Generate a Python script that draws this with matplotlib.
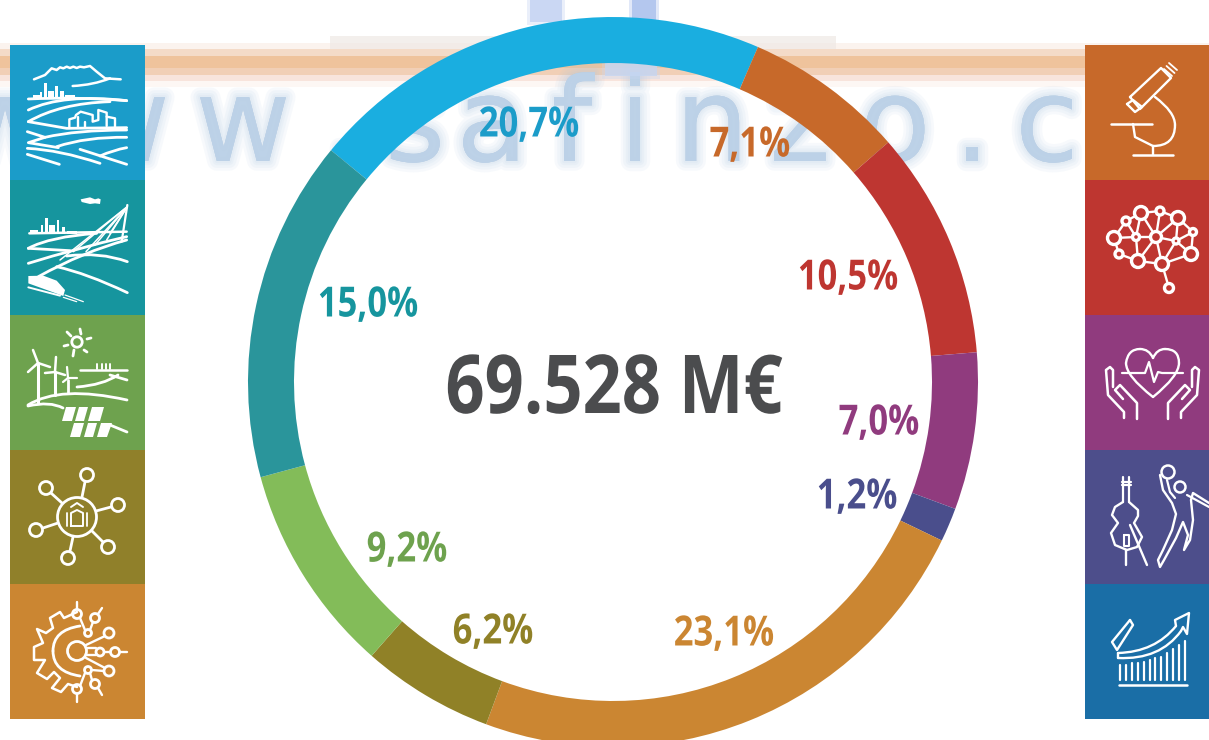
import matplotlib
matplotlib.use('Agg')
import matplotlib.pyplot as plt
import matplotlib.patheffects as pe
from matplotlib.patches import Rectangle, Circle, PathPatch, Polygon
from matplotlib.path import Path
from matplotlib.transforms import Affine2D

# data
shares = [20.7, 7.1, 10.5, 7.0, 1.2, 23.1, 6.2, 9.2, 15.0]
# the drawn arcs differ a little from the printed labels
arc_shares = [20.55, 7.1, 10.1, 6.95, 1.5, 23.5, 5.85, 9.3, 15.15]
ring_colors = ['#1AAEE0', '#C7692A', '#BE3631', '#903B7E', '#4A4E8C',
               '#CB8632', '#908127', '#83BC59', '#2A959B']
label_colors = ['#1B9CC9', '#C7692A', '#BE3631', '#903B7E', '#4A4E8C',
                '#CB8632', '#908127', '#6EA24E', '#16959E']
label_pos = [(529, 126), (750, 146), (848, 279), (879, 424), (857, 498),
             (724, 635), (493, 633), (407, 551), (368, 306)]
total_label = '69.528 M€'
left_tiles = ['#1B9CC9', '#16959E', '#6EA24E', '#90802A', '#CB8632']
right_tiles = ['#C7692A', '#BE3630', '#903B7E', '#4D4E8B', '#1A6EA6']
tile_edges = [45, 180, 315, 450, 584, 719]

W, H = 1209, 740

fig = plt.figure(figsize=(W / 100, H / 100), dpi=100)
ax = fig.add_axes([0, 0, 1, 1])


# no condensed bold installed, so narrow the real text when it is drawn
class Squeeze(pe.AbstractPathEffect):
    def __init__(self, sx):
        super().__init__()
        self.sx = sx

    def draw_path(self, renderer, gc, tpath, affine, rgbFace=None):
        box = tpath.get_extents(affine)
        xc = (box.x0 + box.x1) / 2
        squeezed = affine + Affine2D().translate(-xc, 0).scale(self.sx, 1).translate(xc, 0)
        renderer.draw_path(gc, tpath, squeezed, rgbFace)


def Y(y):
    return H - y


def P(pts):
    return [(x, Y(y)) for x, y in pts]


def line(pts, lw=2.0, z=6):
    xs, ys = zip(*P(pts))
    ax.plot(xs, ys, color='white', lw=lw, zorder=z, solid_capstyle='round', solid_joinstyle='round')


def curve(p0, c, p1, lw=2.0, z=6):
    path = Path(P([p0, c, p1]), [Path.MOVETO, Path.CURVE3, Path.CURVE3])
    ax.add_patch(PathPatch(path, fc='none', ec='white', lw=lw, zorder=z, capstyle='round'))


def circ(x, y, r, lw=2.0, fill='none'):
    ax.add_patch(Circle((x, Y(y)), r, fc=fill, ec='white', lw=lw, zorder=6))


def solid(pts):
    ax.add_patch(Polygon(P(pts), closed=True, fc='white', ec='none', zorder=6))


def bars(items, base):
    for x0, x1, top in items:
        ax.add_patch(Rectangle((x0, Y(base)), x1 - x0, base - top, fc='white', ec='none', zorder=6))


# zoomed icon coordinates to pixels
def i1(x, y):
    return (10 + x / 3, 50 + y / 3)


def i2(x, y):
    return (10 + x / 3, 180 + y / 3)


# blurred background (watermark)
band = [(43, 49, '#FBF3EE'), (49, 56, '#F4DBC8'), (56, 68, '#EFC39C'),
        (68, 75, '#F1CFB6'), (75, 81, '#F8E4DC'), (81, 87, '#FDF7F4')]
for y0, y1, c in band:
    ax.add_patch(Rectangle((0, Y(y1)), W, y1 - y0, fc=c, ec='none', zorder=1))
ax.add_patch(Rectangle((330, Y(49)), 506, 13, fc='#EFE9E5', ec='none', alpha=.7, zorder=1))

blur = [pe.withStroke(linewidth=w, foreground='#A9C6E2', alpha=.09) for w in (14, 10, 6, 3)]
wm_letters = ['w', 'w', 'w', '.', 's', 'a', 'f', 'i', 'n', 'z', 'o', '.', 'c']
wm_x = [5, 122, 243, 345, 415, 492, 572, 635, 712, 800, 895, 972, 1047]
for ch, x in zip(wm_letters, wm_x):
    ax.text(x, Y(161), ch, fontsize=84, family='DejaVu Sans', ha='center', va='baseline',
            color='#BDD2E8', alpha=.7, path_effects=blur, zorder=1)
for x0, x1, y0, y1, c in [(530, 562, 0, 22, '#C3D2F2'), (632, 656, 0, 22, '#A9BFEC'), (605, 657, 62, 76, '#C6D6F2')]:
    ax.add_patch(Rectangle((x0 - 3, Y(y1 + 3)), x1 - x0 + 6, y1 - y0 + 6, fc=c, ec='none', alpha=.35, zorder=1))
    ax.add_patch(Rectangle((x0, Y(y1)), x1 - x0, y1 - y0, fc=c, ec='none', alpha=.8, zorder=1))

# ring, blue slice ends 23.4 degrees clockwise from the top
wedges, _ = ax.pie(arc_shares, colors=ring_colors, startangle=90 - 23.4 + arc_shares[0] * 3.6, counterclock=False,
                   center=(613, Y(382)), radius=365, frame=True,
                   wedgeprops={'width': 46, 'linewidth': 0})
for w in wedges:
    w.set_zorder(3)

ax.set_xlim(0, W)
ax.set_ylim(0, H)
ax.set_aspect('auto')
ax.axis('off')

for v, c, (x, y) in zip(shares, label_colors, label_pos):
    ax.text(x, Y(y), f'{v:.1f}%'.replace('.', ','), color=c, fontsize=30, fontweight='bold',
            family='Open Sans', ha='center', va='center', zorder=5, path_effects=[Squeeze(.83)])
ax.text(614, Y(392), total_label, color='#4B4C4E', fontsize=58.5, fontweight='bold',
        family='Open Sans', ha='center', va='center', zorder=5, path_effects=[Squeeze(.845)])

# side tiles
for i in range(5):
    h = tile_edges[i + 1] - tile_edges[i]
    ax.add_patch(Rectangle((10, Y(tile_edges[i + 1])), 135, h, fc=left_tiles[i], ec='none', zorder=4))
    ax.add_patch(Rectangle((1085, Y(tile_edges[i + 1])), 124, h, fc=right_tiles[i], ec='none', zorder=4))

# icon 1: landscape
mountain = [(72, 88), (105, 75), (125, 55), (140, 60), (150, 52), (160, 55), (170, 50), (180, 54), (190, 50),
            (200, 54), (210, 50), (222, 52), (240, 48), (260, 65), (285, 85), (332, 88)]
line([i1(*p) for p in mountain], lw=1.8)
curve(i1(188, 108), i1(250, 105), i1(300, 85), lw=1.8)
bars([(32.7, 40, 95), (40, 42.3, 91.7), (44, 46.7, 83.3), (47.7, 54.3, 90.7), (55, 57.7, 85.7), (60, 64.3, 90.7), (65, 75, 95)], 99)
curve(i1(55, 147), i1(200, 140), i1(350, 152))
curve(i1(55, 180), i1(160, 130), i1(350, 152))
curve(i1(55, 215), i1(150, 160), i1(300, 155))
line([i1(55, 215), i1(170, 235), i1(350, 233)])
house = [(178, 233), (178, 208), (195, 203), (198, 195), (212, 185), (248, 195), (248, 215), (265, 210), (265, 180), (290, 188), (290, 228)]
line([i1(*p) for p in house], lw=1.7)
line([i1(290, 200), i1(315, 205), i1(315, 232)], lw=1.7)
line([i1(205, 200), i1(205, 232)], lw=1.7)
line([i1(225, 215), i1(225, 232)], lw=1.7)
line([i1(52, 245), i1(105, 262), i1(55, 278), i1(145, 293)])
curve(i1(105, 262), i1(200, 240), i1(350, 240))
curve(i1(140, 290), i1(230, 260), i1(350, 262))
curve(i1(52, 295), i1(150, 300), i1(270, 340))
line([i1(210, 298), i1(350, 343)])
curve(i1(270, 318), i1(310, 300), i1(350, 293))
line([i1(52, 313), i1(148, 343)])

# icon 2: bridge and train
solid([i2(212, 58), i2(240, 52), i2(255, 58), i2(265, 55), i2(272, 58), i2(270, 72), i2(255, 70), i2(240, 72), i2(215, 66)])
bars([(30, 38.3, 230), (40.7, 42.7, 225), (45, 48.3, 218.3), (49.3, 55, 225), (56.7, 59.3, 220), (61.7, 65, 226.7), (66.7, 76.7, 230.7)], 234)
line([i2(58, 160), i2(350, 155)], lw=1.8)
line([i2(352, 75), i2(335, 185)], lw=1.6)
for x0, y0 in [(150, 240), (190, 215), (228, 215), (255, 195), (290, 180), (300, 160)]:
    line([i2(352, 80), i2(x0, y0)], lw=1.1)
curve(i2(55, 205), i2(120, 170), i2(260, 160))
line([i2(55, 205), i2(180, 212)])
curve(i2(55, 250), i2(200, 205), i2(350, 170))
curve(i2(85, 290), i2(220, 215), i2(350, 180))
curve(i2(140, 260), i2(230, 280), i2(352, 338))
curve(i2(170, 228), i2(270, 215), i2(352, 245))
solid([i2(55, 288), i2(100, 287), i2(140, 302), i2(165, 330), i2(160, 348), i2(55, 310)])
line([i2(55, 322), i2(150, 347)], lw=1.4)
line([i2(165, 345), i2(220, 365)], lw=.9)
line([i2(160, 352), i2(200, 365)], lw=.9)

# icon 3: renewables
circ(77, 342, 5.2)
for a, b in [((80, 329), (81, 334)), ((87, 339), (91, 338)), ((84, 350), (87, 352)), ((74, 350), (73, 356)), ((64, 346), (68, 345)), ((67, 332), (71, 336))]:
    line([a, b])
line([(38, 363), (38, 403)], lw=2.2)
line([(33, 350), (38, 363), (50, 367)], lw=1.8)
line([(38, 363), (28, 372)], lw=1.8)
line([(55, 372), (55, 395)], lw=2.2)
line([(56, 357), (55, 372), (65, 375)], lw=1.8)
line([(55, 372), (45, 373)], lw=1.8)
line([(68, 380), (68, 393)], lw=2)
line([(67, 367), (68, 378), (77, 378)], lw=1.6)
line([(68, 378), (63, 382)], lw=1.6)
line([(80, 370), (127, 370)], lw=1.8)
for bx in (97, 102, 106, 110):
    line([(bx, 369), (bx, 364)], lw=1.4)
curve((77, 387), (103, 385), (118, 375))
line([(110, 375), (127, 380)])
curve((28, 405), (60, 385), (127, 400))
curve((28, 406), (50, 401), (63, 408))
for pts in [[(66, 407), (76, 407), (72, 421), (62, 421)], [(79, 407), (88, 407), (84, 421), (75, 421)], [(92, 407), (104, 407), (100, 421), (88, 421)],
            [(74, 423), (84, 423), (80, 437), (70, 437)], [(88, 423), (97, 423), (93, 437), (84, 437)], [(101, 423), (112, 423), (107, 437), (97, 437)]]:
    solid(pts)
line([(110, 425), (127, 432)])

# icon 4: network
circ(77, 517, 19.5)
for cx, cy in [(87, 475), (46, 488), (118, 505), (36, 530), (108, 547), (68, 558)]:
    circ(cx, cy, 6.5)
for a, b in [((85, 482), (82, 497)), ((51, 493), (62, 503)), ((111, 507), (96, 511)), ((43, 528), (58, 523)), ((103, 542), (92, 531)), ((70, 551), (73, 537))]:
    line([a, b])
line([(71, 526), (71, 513), (77, 510), (83, 513), (83, 526), (71, 526)], lw=1.4)
line([(71, 507), (77, 503), (83, 507)], lw=1.4)
line([(67, 513), (67, 526)], lw=1.3)
line([(87, 513), (87, 526)], lw=1.3)

# icon 5: gear
gear = [(77, 612), (64, 618), (60, 612), (50, 618), (53, 628), (46, 633), (37, 629), (43, 643), (34, 647), (34, 660), (45, 660), (37, 673), (47, 679), (54, 672), (60, 678), (52, 688), (61, 692), (68, 684), (77, 687)]
line(gear, lw=1.8)
curve((80, 626), (53, 630), (53, 651))
curve((53, 651), (53, 672), (80, 676))
circ(77, 651, 9.5)
circ(77, 614, 4.5)
circ(77, 689, 4.5)
circ(95, 618, 4.5)
circ(95, 684, 4.5)
circ(88, 633, 3.5)
circ(88, 670, 3.5)
circ(109, 633, 5)
circ(109, 671, 5)
circ(100, 652, 4)
circ(115, 652, 4.5)
for a, b in [((77, 602), (77, 609)), ((77, 694), (77, 702)), ((98, 614), (102, 608)), ((98, 688), (102, 695)),
             ((80, 618), (85, 630)), ((80, 686), (85, 673)), ((86, 648), (96, 648)), ((86, 655), (96, 655)),
             ((104, 652), (110, 652)), ((120, 652), (127, 652)), ((86, 645), (105, 636)), ((86, 658), (105, 668)),
             ((92, 670), (104, 671)), ((93, 622), (90, 630)), ((92, 680), (90, 673))]:
    line([a, b], lw=1.7)

# microscope
line([(1130, 97), (1161, 68), (1171, 78), (1140, 109), (1130, 97)], lw=1.7)
line([(1127, 104), (1133, 100), (1142, 107), (1135, 112), (1127, 104)], lw=1.7)
for i in range(3):
    line([(1164 + i * 2.5, 69 - i * 3), (1172 + i * 2.5, 76 - i * 3)], lw=1.3)
line([(1111, 124), (1152, 124)], lw=1.8)
line([(1133, 124), (1135, 137), (1153, 146)], lw=1.7)
curve((1155, 97), (1175, 112), (1175, 125), lw=1.7)
curve((1175, 125), (1175, 146), (1153, 146), lw=1.7)
line([(1153, 146), (1153, 155)], lw=1.7)
line([(1133, 155), (1173, 155)], lw=1.8)

# brain
brain_nodes = [(1141, 213, 6.5), (1160, 211, 4), (1178, 218, 6.5), (1126, 221, 4), (1193, 232, 3.5), (1114, 238, 6.5), (1136, 237, 3.5),
               (1156, 237, 5.5), (1176, 241, 3), (1191, 254, 6.5), (1119, 254, 4), (1138, 261, 6.5), (1162, 264, 6.5), (1169, 288, 4.5)]
links = [(0, 1), (1, 2), (0, 3), (3, 5), (3, 6), (5, 6), (0, 6), (0, 7), (1, 7), (2, 7), (2, 4), (2, 8), (4, 9), (8, 9), (4, 8), (6, 7), (7, 8),
         (6, 11), (10, 11), (5, 10), (7, 11), (7, 12), (8, 12), (9, 12), (11, 12), (12, 13)]
for a, b in links:
    line([brain_nodes[a][:2], brain_nodes[b][:2]], lw=1.7)
for x, y, r in brain_nodes:
    ax.add_patch(Circle((x, Y(y)), r, fc=right_tiles[1], ec='white', lw=2.4, zorder=7))

# heart in hands
curve((1153, 397), (1126, 376), (1126, 363), lw=1.7)
curve((1126, 363), (1128, 349), (1140, 349), lw=1.7)
curve((1140, 349), (1149, 349), (1153, 358), lw=1.7)
curve((1153, 358), (1157, 349), (1165, 349), lw=1.7)
curve((1165, 349), (1179, 349), (1179, 363), lw=1.7)
curve((1179, 363), (1179, 376), (1153, 397), lw=1.7)
line([(1122, 373), (1145, 373), (1149, 362), (1154, 382), (1158, 372), (1162, 373), (1183, 373)], lw=1.6)
line([(1124, 418), (1124, 412), (1108, 395), (1106, 370), (1110, 367), (1113, 370), (1113, 387)], lw=1.8)
line([(1123, 399), (1115, 390), (1120, 385), (1137, 403), (1137, 419)], lw=1.8)
line([(1168, 419), (1168, 403), (1185, 385), (1190, 390), (1182, 399)], lw=1.8)
line([(1181, 418), (1181, 412), (1197, 395), (1199, 370), (1195, 367), (1192, 370), (1192, 387)], lw=1.8)

# cello and player
line([(1123, 477), (1123, 502)], lw=1.6)
line([(1129, 477), (1129, 502)], lw=1.6)
line([(1122, 482), (1131, 482)], lw=1.6)
line([(1122, 485), (1131, 485)], lw=1.6)
line([(1123, 502), (1115, 507), (1112, 515), (1118, 523), (1111, 533), (1115, 545), (1127, 550), (1137, 547), (1142, 537), (1134, 523), (1138, 516), (1138, 510), (1129, 502)], lw=1.7)
line([(1124, 535), (1129, 535), (1129, 546), (1124, 546), (1124, 535)], lw=1.5)
line([(1126, 550), (1126, 565)], lw=1.7)
line([(1130, 525), (1147, 565)], lw=1.7)
circ(1168, 472, 6.5, lw=1.8)
circ(1180, 487, 5.5, lw=1.8)
player = [(1160, 475), (1163, 490), (1172, 503), (1176, 514), (1172, 530), (1163, 550), (1158, 560), (1160, 567), (1164, 560), (1176, 538), (1183, 522),
          (1188, 535), (1184, 550), (1190, 540), (1193, 520), (1191, 500), (1193, 493), (1209, 503)]
line(player, lw=1.7)
line([(1167, 480), (1170, 492), (1175, 498)], lw=1.6)
line([(1187, 495), (1209, 507)], lw=1.6)

# growth chart
for i, top in enumerate([665, 665, 663, 663, 662, 660, 658, 657, 653, 649, 645, 641]):
    bx = 1120 + i * 5.9
    line([(bx, 680), (bx, top)], lw=1.6)
line([(1119, 685), (1187, 685)], lw=1.8)
line([(1130, 620), (1133, 625), (1117, 650), (1112, 642), (1130, 620)], lw=1.7)
curve((1118, 653), (1155, 652), (1176, 626), lw=1.7)
curve((1118, 658), (1160, 660), (1181, 631), lw=1.7)
line([(1118, 653), (1118, 658)], lw=1.7)
line([(1176, 626), (1175, 620), (1189, 613), (1187, 634), (1183, 627), (1181, 631)], lw=1.7)

fig.savefig('out.png', dpi=100)
